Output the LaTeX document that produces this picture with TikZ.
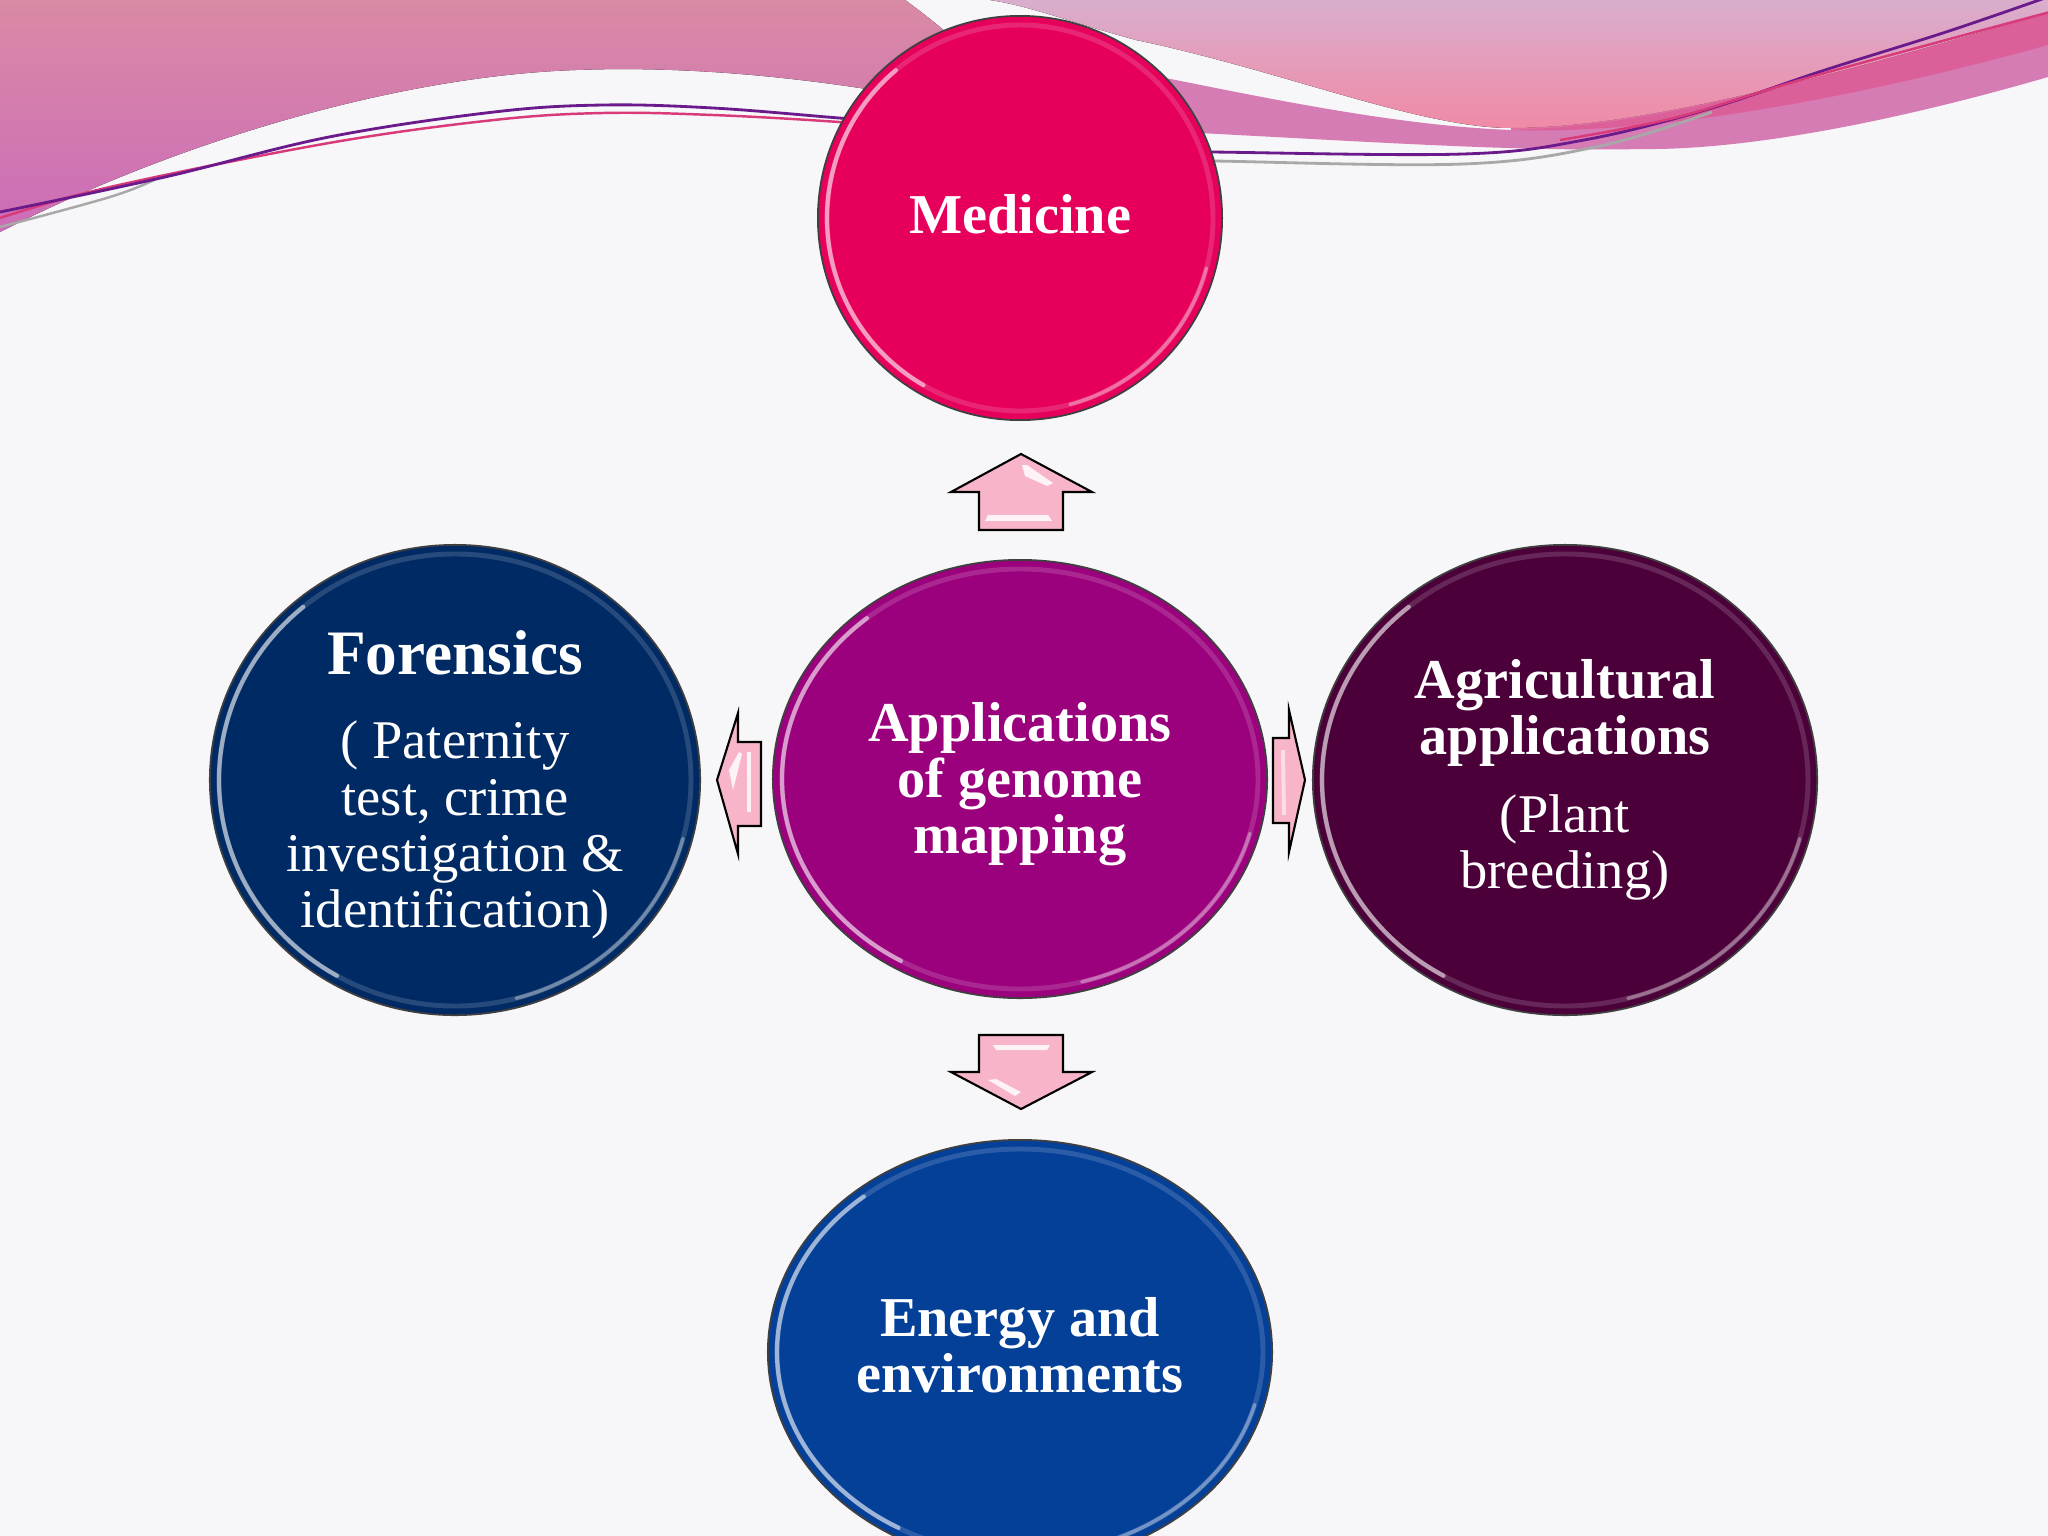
\documentclass[tikz,border=0pt]{standalone}
\usepackage{fontspec}
\setmainfont{Liberation Serif}
\usetikzlibrary{shapes.geometric}
\definecolor{bgc}{HTML}{F7F6F8}
\definecolor{waveA}{HTML}{D98AA5}
\definecolor{waveB}{HTML}{CC6CB8}
\definecolor{lavA}{HTML}{D9AECD}
\definecolor{lavB}{HTML}{F08AA6}
\definecolor{mauve}{HTML}{D57CB5}
\definecolor{bandpink}{HTML}{DD5A94}
\definecolor{lnpurple}{HTML}{6A1A8A}
\definecolor{lnpink}{HTML}{D83A7A}
\definecolor{lngray}{HTML}{A8A8A8}
\definecolor{cMed}{HTML}{E6005C}
\definecolor{cApp}{HTML}{9B007D}
\definecolor{cFor}{HTML}{002A64}
\definecolor{cAgr}{HTML}{4C003A}
\definecolor{cEne}{HTML}{044098}
\definecolor{arrowpink}{HTML}{F8B4C8}
\newcommand\hdfont{\bfseries\fontsize{16}{16}\selectfont}
\newcommand\glossring[4]{%
  \draw[#4!50!white, line width=1.4pt, opacity=.3] (#1.center) ellipse[x radius=#2-9, y radius=#3-9];
  \draw[white, line width=1.2pt, opacity=.55, line cap=round] (#1.center) ++(120:#2-9 and #3-9) arc[start angle=120, end angle=230, x radius=#2-9, y radius=#3-9];
  \draw[white, line width=1pt, opacity=.35, line cap=round] (#1.center) ++(15:#2-9 and #3-9) arc[start angle=15, end angle=75, x radius=#2-9, y radius=#3-9];
}
\begin{document}
\begin{tikzpicture}[x=0.01cm,y=-0.01cm,
  bub/.style={ellipse, draw=black!75, line width=0.5pt, inner sep=0pt, outer sep=0pt},
  lbl/.style={text=white, align=center, inner sep=0pt, font=\fontsize{15.5}{16}\selectfont},
  blockarrow/.style={fill=arrowpink, draw=black, line width=0.6pt, line join=miter},
  hilite/.style={fill=white, opacity=.85}]
\useasboundingbox (0,0) rectangle (2048,1536);
\begin{scope}
\clip (0,0) rectangle (2048,1536);
\fill[bgc] (0,0) rectangle (2048,1536);
% --- top waves ---
\fill[top color=waveA, bottom color=waveB] (0,0) -- (905,0) .. controls (960,40) and (1000,80) .. (1010,110) -- (860,88) .. controls (780,76) and (680,66) .. (576,70) .. controls (400,76) and (180,140) .. (0,232) -- cycle;
\fill[mauve] (1100,65) .. controls (1230,90) and (1380,125) .. (1511,130) .. controls (1700,125) and (1900,50) .. (2048,5) -- (2048,77) .. controls (1900,120) and (1750,150) .. (1644,149) .. controls (1500,152) and (1350,140) .. (1100,128) -- cycle;
\fill[top color=lavA, bottom color=lavB] (990,0) -- (2048,0) -- (2048,13) .. controls (1850,70) and (1650,128) .. (1511,128) .. controls (1420,128) and (1280,70) .. (1136,40) .. controls (1070,22) and (1030,6) .. (990,0) -- cycle;
\fill[bandpink, opacity=.85] (1511,128) .. controls (1650,128) and (1850,70) .. (2048,13) -- (2048,45) .. controls (1850,100) and (1650,135) .. (1511,130) -- cycle;
% --- thin lines ---
\draw[lngray, line width=0.7pt] plot[smooth, tension=.6] coordinates {(0,227) (110,197) (154,180)};
\draw[lnpink, line width=0.7pt] plot[smooth, tension=.6] coordinates {(0,218) (110,187) (329,143) (494,120) (603,113) (713,115) (839,122) (960,132)};
\draw[lnpurple, line width=0.8pt] plot[smooth, tension=.6] coordinates {(0,212) (165,177) (329,137) (494,112) (603,105) (713,108) (839,118) (960,128)};
\draw[lngray, line width=0.8pt] plot[smooth, tension=.6] coordinates {(1100,158) (1215,161) (1463,164) (1600,146) (1712,112)};
\draw[lnpurple, line width=0.8pt] plot[smooth, tension=.6] coordinates {(1100,150) (1212,152) (1463,154) (1584,140) (1705,110) (1825,70) (1946,32) (2045,-2)};
\draw[lnpink, line width=0.7pt] plot[smooth, tension=.6] coordinates {(1560,140) (1674,118) (1800,80) (1946,40) (2050,12)};
% --- circles ---
\node[bub, fill=cMed, minimum width=4.04cm, minimum height=4.04cm] (med) at (1020,218) {};
\node[bub, fill=cApp, minimum width=4.94cm, minimum height=4.38cm] (app) at (1020,779) {};
\node[bub, fill=cFor, minimum width=4.90cm, minimum height=4.70cm] (fore) at (455,780) {};
\node[bub, fill=cAgr, minimum width=5.04cm, minimum height=4.70cm] (agri) at (1565,780) {};
\node[bub, fill=cEne, minimum width=5.04cm, minimum height=4.24cm] (ener) at (1020,1352) {};
\glossring{med}{202}{202}{cMed}
\glossring{app}{247}{219}{cApp}
\glossring{fore}{245}{235}{cFor}
\glossring{agri}{252}{235}{cAgr}
\glossring{ener}{252}{212}{cEne}
% --- texts ---
\node[lbl, font=\hdfont] (medtxt) at (1020,214) {Medicine};
\node[lbl, font=\hdfont] (apptxt) at (1020,784) {Applications\\of genome\\mapping};
\node[lbl] (foretxt) at (455,785) {{\bfseries\fontsize{18}{16}\selectfont Forensics}\\[8pt]( Paternity\\test, crime\\investigation \&\\identification)};
\node[lbl] (agritxt) at (1565,780) {{\hdfont Agricultural}\\{\hdfont applications}\\[6pt](Plant\\breeding)};
\node[lbl, font=\hdfont] (enertxt) at (1020,1345) {Energy and\\environments};
\end{scope}
% --- block arrows ---
\draw[blockarrow] (1021,454) -- (1092,492) -- (1063,492) -- (1063,530) -- (979,530) -- (979,492) -- (951,492) -- cycle;
\fill[hilite] (988,515) -- (1048,515) -- (1052,521) -- (985,521) -- cycle;
\fill[hilite] (1022,465) -- (1027,465) -- (1053,483) -- (1047,486) -- (1025,476) -- cycle;
\draw[blockarrow] (979,1035) -- (1063,1035) -- (1063,1072) -- (1092,1072) -- (1021,1109) -- (951,1072) -- (979,1072) -- cycle;
\fill[hilite] (993,1045) -- (1050,1045) -- (1047,1050) -- (996,1050) -- cycle;
\fill[hilite] (988,1080) -- (996,1079) -- (1021,1092) -- (1015,1096) -- cycle;
\draw[blockarrow] (717,780) -- (738,713) -- (738,742) -- (761,742) -- (761,826) -- (738,826) -- (738,854) -- cycle;
\fill[hilite] (729,770) -- (739,752) -- (742,754) -- (733,790) -- cycle;
\fill[hilite] (747,752) -- (751,752) -- (751,812) -- (747,812) -- cycle;
\draw[blockarrow] (1273,738) -- (1289,738) -- (1289,710) -- (1305,780) -- (1289,852) -- (1289,823) -- (1273,823) -- cycle;
\fill[hilite, opacity=.55] (1281,750) -- (1285,750) -- (1286,815) -- (1282,815) -- cycle;
\end{tikzpicture}
\end{document}
